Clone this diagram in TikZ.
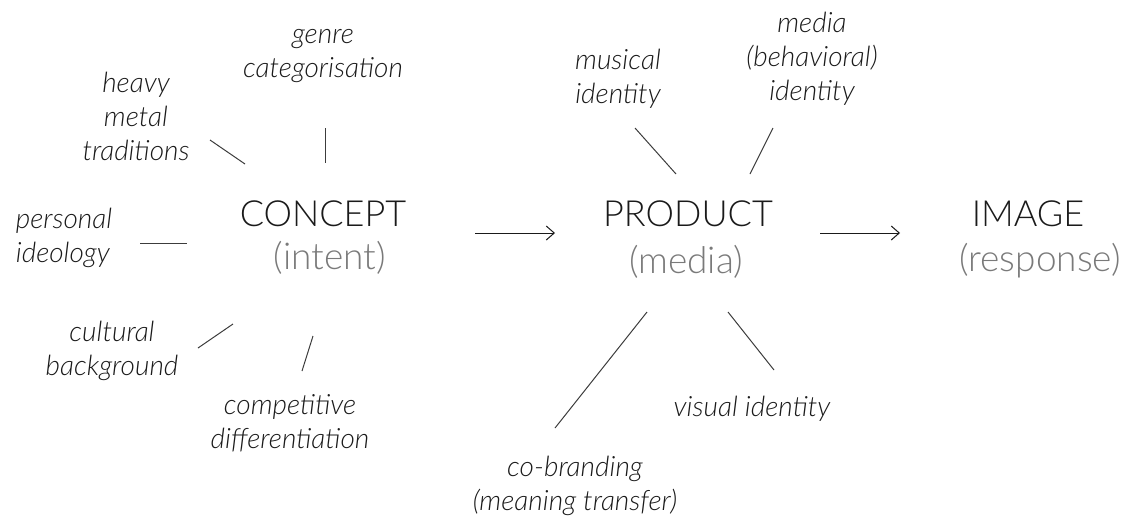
\documentclass[tikz,border=0pt]{standalone}
\usepackage{fontspec}
\setmainfont{Lato}
\newfontfamily\lightfont{Lato Light}
\usetikzlibrary{arrows.meta}
\definecolor{ink}{HTML}{1A1A1A}
\definecolor{soft}{HTML}{7A7A7A}
\begin{document}
\begin{tikzpicture}[x=1pt,y=-1pt,
  lbl/.style={font=\lightfont\fontsize{28}{34}\selectfont\itshape, text=ink, align=center, inner sep=0pt},
  main/.style={font=\lightfont\fontsize{36}{40}\selectfont, text=ink, inner sep=0pt},
  sub/.style={font=\lightfont\fontsize{37}{40}\selectfont, text=soft, inner sep=0pt},
  spoke/.style={draw=ink!85, line width=1pt},
  flow/.style={draw=ink, line width=1pt, -{Straight Barb[length=8pt,width=14pt,line width=1pt]}}]
\useasboundingbox (0,0) rectangle (1133,520);
% main nodes
\node[main] (concept) at (323,214) {CONCEPT};
\node[sub] (intent) at (330,258) {(intent)};
\node[main] (product) at (688,214) {PRODUCT};
\node[sub] (media) at (686,262) {(media)};
\node[main] (image) at (1028,214) {IMAGE};
\node[sub] (response) at (1040,261) {(response)};
% labels
\node[lbl] (heavy) at (136,116) {heavy\\metal\\traditions};
\node[lbl] (genre) at (323,56) {genre\\categorisation};
\node[lbl, align=left] (personal) at (64,238) {personal\\ideology};
\node[lbl] (cultural) at (112,351) {cultural\\background};
\node[lbl] (compet) at (290,423) {competitive\\differentiation};
\node[lbl] (musical) at (618,79) {musical\\identity};
\node[lbl] (behav) at (812,59) {media\\(behavioral)\\identity};
\node[lbl] (visual) at (752,409) {visual identity};
\node[lbl] (cobrand) at (575,486) {co-branding\\(meaning transfer)};
% spoke end points
\coordinate (h1) at (210,140); \coordinate (h2) at (245,164);
\coordinate (g1) at (325,128); \coordinate (g2) at (325,163);
\coordinate (p1) at (140,243); \coordinate (p2) at (187,243);
\coordinate (c1) at (198,348); \coordinate (c2) at (233,324);
\coordinate (d1) at (302,371); \coordinate (d2) at (313,336);
\coordinate (m1) at (635,128); \coordinate (m2) at (676,174);
\coordinate (b1) at (773,128); \coordinate (b2) at (750,174);
\coordinate (v1) at (728,312); \coordinate (v2) at (774,370);
\coordinate (k1) at (647,312); \coordinate (k2) at (555,428);
\coordinate (a1) at (475,233); \coordinate (a2) at (555,233);
\coordinate (e1) at (820,233); \coordinate (e2) at (900,233);
\draw[spoke] (h1) -- (h2);
\draw[spoke] (g1) -- (g2);
\draw[spoke] (p1) -- (p2);
\draw[spoke] (c1) -- (c2);
\draw[spoke] (d1) -- (d2);
\draw[spoke] (m1) -- (m2);
\draw[spoke] (b1) -- (b2);
\draw[spoke] (v1) -- (v2);
\draw[spoke] (k1) -- (k2);
\draw[flow] (a1) -- (a2);
\draw[flow] (e1) -- (e2);
\end{tikzpicture}
\end{document}
